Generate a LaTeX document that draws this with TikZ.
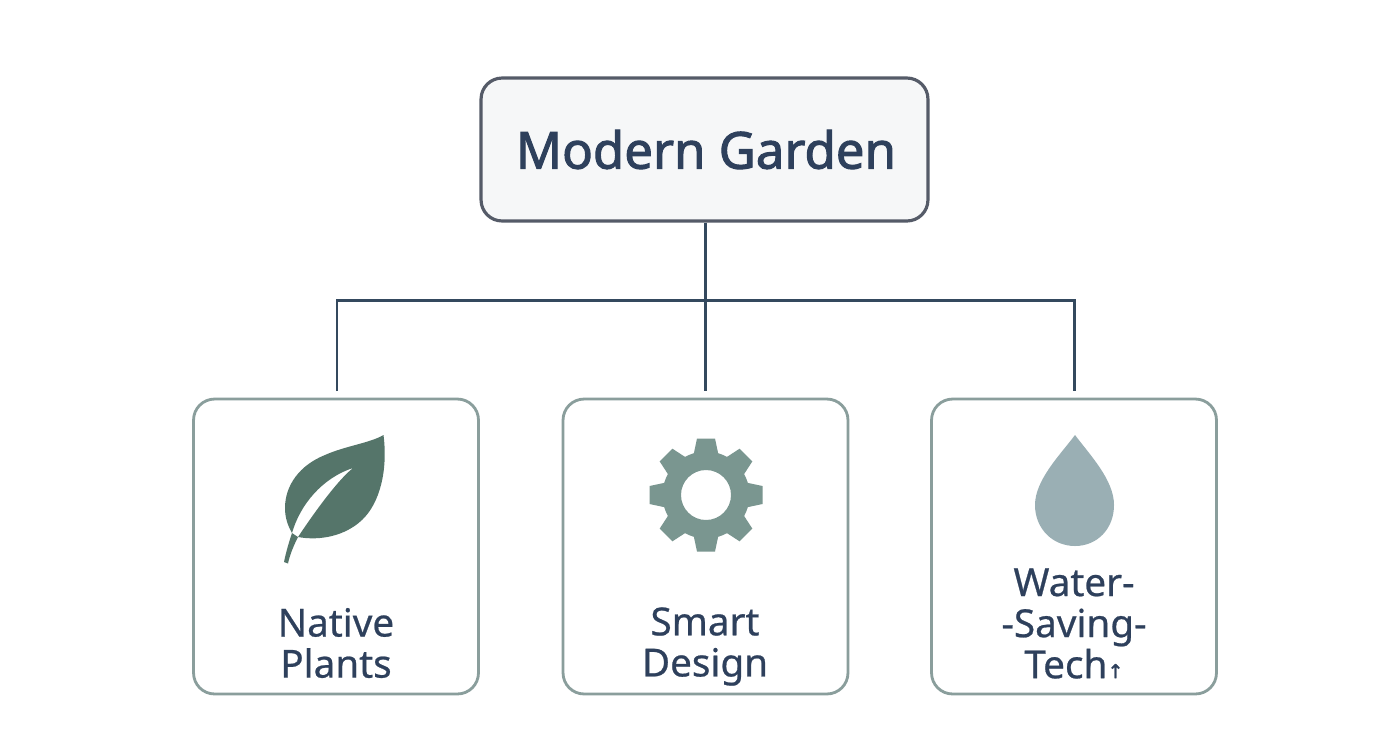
\documentclass[tikz,border=0pt]{standalone}
\usepackage{fontspec}
\setmainfont[FakeBold=0.6]{Noto Sans}
\newfontfamily\heavyfont[FakeBold=2]{Noto Sans}
\newfontfamily\symfont[FakeBold=1]{DejaVu Sans}
\definecolor{inkblue}{HTML}{2E405C}
\definecolor{linkblue}{HTML}{34495E}
\definecolor{rootedge}{HTML}{555B68}
\definecolor{rootfill}{HTML}{F6F7F8}
\definecolor{cardedge}{HTML}{8A9E9C}
\definecolor{leafgreen}{HTML}{55756A}
\definecolor{gearsage}{HTML}{7A9690}
\definecolor{dropblue}{HTML}{9AAFB4}
\tikzset{
    rootbox/.style={draw=rootedge, fill=rootfill, line width=1.8pt, rounded corners=12pt, minimum width=8.94cm, minimum height=2.86cm, text=inkblue, font=\heavyfont\fontsize{29}{36}\selectfont},
    cardbox/.style={draw=cardedge, fill=white, line width=1.6pt, rounded corners=12pt, minimum width=5.70cm, minimum height=5.90cm},
    cardtext/.style={text=inkblue, align=center, font=\fontsize{22}{23.4}\selectfont},
    linkline/.style={draw=linkblue, line width=1.7pt}
}
\begin{document}
\begin{tikzpicture}[x=0.02cm, y=-0.02cm]
    \useasboundingbox (0,0) rectangle (1392,752);
    \fill[white] (0,0) rectangle (1392,752);
    \draw (704.5,149.5) node[rootbox] (garden) {\hspace*{1.7pt}Modern Garden};
    \draw (336,546.5) node[cardbox] (plants) {};
    \draw (705.5,546.5) node[cardbox] (design) {};
    \draw (1074,546.5) node[cardbox] (water) {};
    \coordinate (busmid) at (705,300);
    \coordinate (busleft) at (337,300);
    \coordinate (busright) at (1074,300);
    \coordinate (plantsend) at (337,391);
    \coordinate (designend) at (705,391);
    \coordinate (waterend) at (1074,391);
    \draw[linkline] (garden.south -| busmid) -- (busmid) -- (designend);
    \draw[linkline] (plantsend) -- (busleft) -- (busright) -- (waterend);
    \fill[leafgreen] (383.5,435) .. controls (370,443) and (345,446) .. (325,455) .. controls (300,465) and (285,485) .. (285,508) .. controls (285,518) and (288,526) .. (292,533) .. controls (300,505) and (322,478) .. (353,468) .. controls (338,480) and (316,510) .. (298,537) .. controls (320,541) and (345,536) .. (362,520) .. controls (380,503) and (388,470) .. (383.5,435) -- cycle;
    \fill[leafgreen] (292,533) .. controls (289,542) and (286,552) .. (284,562) -- (288,563.5) .. controls (290,554) and (294,545) .. (298,537) -- cycle;
    \fill[gearsage, even odd rule] (706,495) circle (25) (706,495) circle (43.5);
    \foreach \toothangle in {0,45,...,315} {
        \fill[gearsage, rotate around={\toothangle:(706,495)}] (693.5,455) -- (697,438.5) -- (715,438.5) -- (718.5,455) -- cycle;
    }
    \fill[dropblue] (1075,435) .. controls (1060,455) and (1035,480) .. (1035,505) .. controls (1035,529) and (1053,546) .. (1075,546) .. controls (1097,546) and (1114,529) .. (1114,505) .. controls (1114,480) and (1090,455) .. (1075,435) -- cycle;
    \draw (336,643) node[cardtext] (plantslabel) {Native\\Plants};
    \draw (705,646.5) node[cardtext] (designlabel) {Smart\\Design};
    \draw (1074,623.5) node[cardtext] (waterlabel) {Water-\\-Saving-\\Tech{\symfont\fontsize{11}{12}\selectfont ↑}};
\end{tikzpicture}
\end{document}
